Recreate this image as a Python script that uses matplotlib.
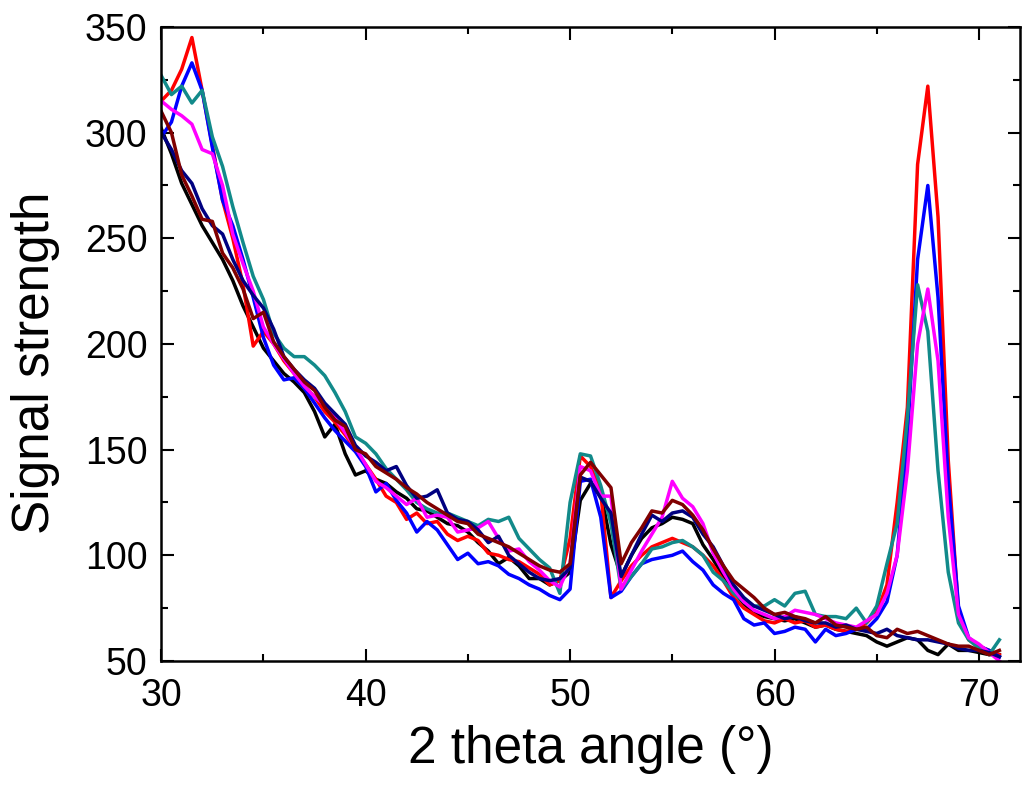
import numpy as np
import matplotlib
matplotlib.use("Agg")
import matplotlib.pyplot as plt
from matplotlib.ticker import MultipleLocator

plt.rcParams['font.family'] = ['Liberation Sans', 'DejaVu Sans']

# 2 theta grid, 30 to 71 degrees in 0.5 degree steps
theta = np.arange(30.0, 71.01, 0.5)

red = [315, 320, 330, 345, 320, 294, 268, 250, 228, 199,
       206, 200, 192, 186, 180, 175, 168, 163, 157, 150,
       143, 136, 128, 125, 117, 120, 115, 116, 110, 107,
       109, 107, 101, 100, 98, 97, 94, 91, 86, 88,
       108, 147, 142, 130, 80, 88, 95, 100, 104, 106,
       108, 106, 104, 100, 95, 88, 80, 75, 72, 69,
       68, 70, 68, 69, 66, 67, 65, 64, 65, 68,
       73, 86, 125, 170, 285, 322, 260, 145, 73, 60,
       57, 55, 53]

blue = [298, 305, 322, 333, 320, 293, 268, 256, 240, 222,
        203, 190, 183, 184, 179, 172, 165, 159, 154, 149,
        142, 130, 134, 126, 120, 111, 116, 112, 105, 98,
        101, 96, 97, 95, 91, 89, 86, 84, 81, 79,
        84, 135, 136, 118, 80, 83, 90, 96, 98, 99,
        100, 102, 97, 93, 86, 82, 79, 70, 67, 68,
        63, 64, 66, 65, 59, 65, 62, 63, 65, 65,
        70, 78, 100, 155, 240, 275, 222, 135, 76, 61,
        57, 55, 52]

teal = [327, 318, 322, 314, 320, 298, 284, 265, 248, 232,
        221, 205, 198, 194, 194, 190, 185, 177, 168, 156,
        153, 148, 141, 136, 131, 125, 122, 120, 120, 118,
        116, 114, 117, 116, 118, 108, 103, 98, 94, 82,
        125, 148, 147, 133, 115, 84, 90, 96, 103, 104,
        106, 107, 104, 100, 92, 88, 82, 78, 76, 76,
        79, 76, 82, 83, 72, 71, 71, 70, 75, 68,
        76, 96, 115, 165, 228, 206, 140, 92, 68, 60,
        56, 53, 60]

magenta = [315, 311, 308, 304, 292, 290, 275, 252, 238, 225,
           208, 200, 193, 186, 180, 175, 171, 165, 158, 151,
           143, 135, 132, 128, 124, 127, 118, 119, 118, 111,
           112, 113, 116, 108, 102, 103, 97, 93, 88, 85,
           96, 142, 140, 128, 128, 84, 93, 102, 110, 118,
           135, 127, 123, 115, 101, 92, 84, 78, 74, 72,
           70, 71, 74, 73, 72, 70, 68, 67, 66, 69,
           72, 82, 100, 140, 200, 226, 192, 118, 72, 61,
           58, 54, 50]

black = [302, 290, 276, 266, 256, 248, 240, 230, 218, 208,
         198, 192, 186, 182, 177, 168, 156, 162, 148, 138,
         140, 136, 134, 130, 127, 122, 121, 118, 115, 114,
         111, 106, 102, 96, 99, 95, 89, 89, 86, 88,
         92, 126, 134, 130, 105, 90, 100, 108, 113, 115,
         118, 117, 115, 105, 98, 90, 83, 77, 73, 71,
         70, 69, 70, 68, 66, 67, 65, 64, 63, 62,
         59, 57, 59, 61, 60, 55, 53, 58, 55, 55,
         54, 53, 53]

navy = [300, 292, 282, 276, 264, 256, 252, 240, 230, 223,
        217, 207, 194, 188, 183, 179, 172, 167, 162, 152,
        147, 144, 140, 142, 133, 127, 128, 131, 120, 117,
        116, 112, 106, 109, 100, 96, 92, 89, 88, 89,
        94, 137, 135, 127, 120, 90, 100, 110, 119, 116,
        120, 121, 118, 110, 104, 95, 86, 80, 76, 74,
        72, 70, 71, 69, 68, 68, 66, 67, 65, 64,
        63, 65, 62, 61, 60, 60, 59, 58, 56, 55,
        55, 54, 52]

darkred = [310, 300, 280, 270, 259, 258, 243, 236, 226, 212,
           215, 201, 194, 188, 182, 178, 170, 164, 161, 150,
           148, 142, 139, 136, 132, 129, 125, 122, 119, 116,
           115, 110, 108, 106, 104, 101, 98, 95, 93, 92,
           96, 138, 144, 138, 132, 96, 106, 113, 121, 120,
           126, 124, 119, 112, 103, 95, 88, 84, 80, 75,
           72, 73, 71, 70, 68, 71, 67, 66, 65, 66,
           62, 61, 65, 63, 64, 62, 60, 58, 57, 57,
           55, 53, 55]

series = [(black, '#000000'), (red, '#ff0000'), (blue, '#0000ff'),
          (teal, '#128a8a'), (magenta, '#ff00ff'), (navy, '#000080'),
          (darkred, '#800000')]

fig = plt.figure(figsize=(10.27, 7.93), dpi=100)
ax = fig.add_axes([0.157, 0.1665, 0.836, 0.7995])

for vals, col in series:
    ax.plot(theta, vals, color=col, lw=2.5)

ax.set_xlim(30, 72)
ax.set_ylim(50, 350)
ax.xaxis.set_major_locator(MultipleLocator(10))
ax.xaxis.set_minor_locator(MultipleLocator(5))
ax.yaxis.set_major_locator(MultipleLocator(50))
ax.yaxis.set_minor_locator(MultipleLocator(25))

ax.tick_params(which='both', direction='in', top=True, right=True, width=1.5)
ax.tick_params(which='major', length=9, labelsize=27)
ax.tick_params(which='minor', length=5)
ax.tick_params(axis='x', which='major', pad=12)
ax.tick_params(axis='y', which='major', pad=10)
for s in ax.spines.values():
    s.set_linewidth(1.8)

ax.set_xlabel('2 theta angle (°)', fontsize=37, labelpad=8)
ax.set_ylabel('Signal strength', fontsize=37)
ax.yaxis.set_label_coords(-0.118, 0.47)

fig.savefig('out.png', dpi=100)
